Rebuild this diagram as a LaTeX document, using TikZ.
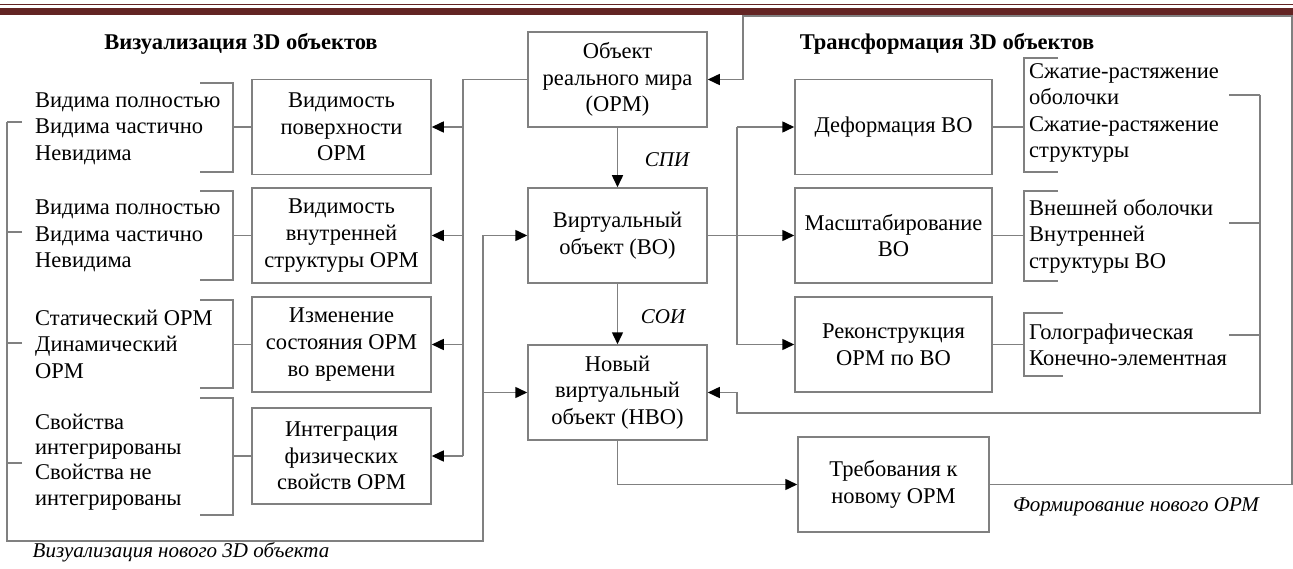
\documentclass[tikz,border=0pt]{standalone}
\usepackage{fontspec}
\setmainfont{Liberation Serif}
\usetikzlibrary{arrows.meta,calc}
\definecolor{linegray}{RGB}{128,128,128}
\definecolor{bandred}{RGB}{99,36,35}
\begin{document}
\begin{tikzpicture}[x=1pt,y=-1pt,
    conn/.style={draw=linegray,line width=1.5pt},
    arr/.style={conn,-{Triangle[width=11pt,length=12pt,black]}},
    box/.style={conn,minimum width=179pt,minimum height=95pt,align=center,inner sep=2pt,
        font=\fontsize{22.5}{26.7}\selectfont},
    wbox/.style={box,minimum width=197pt},
    note/.style={anchor=west,align=left,inner sep=0pt,font=\fontsize{22.5}{26.5}\selectfont},
    lab/.style={inner sep=0pt,font=\fontsize{21}{25}\selectfont\itshape},
    ttl/.style={inner sep=0pt,font=\fontsize{22.5}{26}\selectfont\bfseries}]
        \useasboundingbox (0,0) rectangle (1293,569);
        \fill[bandred] (0,4) rectangle (1293,5.5);
        \fill[bandred] (0,8) rectangle (1293,15);
        % titles
        \node[ttl] (tvis) at (241,44) {Визуализация 3D объектов};
        \node[ttl] (ttr) at (947,44) {Трансформация 3D объектов};
        % middle column
        \node[box] (obj) at (617.5,79.5) {Объект\\реального мира\\(ОРМ)};
        \node[box] (vo) at (617.5,235.5) {Виртуальный\\объект (ВО)};
        \node[box] (nvo) at (617.5,392.5) {Новый\\виртуальный\\объект (НВО)};
        \node[box,minimum width=191pt] (treb) at (893.5,484.5) {Требования к\\новому ОРМ};
        \draw[arr] (obj) -- (vo);
        \draw[arr] (vo) -- (nvo);
        \node[lab] (spi) at (667,160) {СПИ};
        \node[lab] (soi) at (663,317) {СОИ};
        % left column
        \node[box] (vis1) at (341.5,127) {Видимость\\поверхности\\ОРМ};
        \node[box] (vis2) at (341.5,235.5) {Видимость\\внутренней\\структуры ОРМ};
        \node[box] (izm) at (341.5,344.5) {Изменение\\состояния ОРМ\\во времени};
        \node[box,minimum height=96pt] (integ) at (341.5,456) {Интеграция\\физических\\свойств ОРМ};
        \node[note] (txvis1) at (35,128.5) {Видима полностью\\Видима частично\\Невидима};
        \node[note] (txvis2) at (35,236) {Видима полностью\\Видима частично\\Невидима};
        \node[note] (txizm) at (35,344) {Статический ОРМ\\Динамический\\ОРМ};
        \node[note,font=\fontsize{22.5}{25.2}\selectfont] (txinteg) at (35,462) {Свойства\\интегрированы\\Свойства не\\интегрированы};
        \foreach \b/\t/\u in {vis1/83/172,vis2/191/280,izm/300/388,integ/398/515}{
            \draw[conn] (\b.west) -- ++(-19,0);
            \draw[conn] (200,\t) -- (233,\t) -- (233,\u) -- (200,\u);
        }
        \coordinate (vbus) at (463,0);
        \draw[conn] (obj.west) -| (vbus |- integ.east);
        \foreach \b in {vis1,vis2,izm,integ}
            \draw[arr] (vbus |- \b.east) -- (\b.east);
        % new object visualisation loop
        \coordinate (lbus) at (483,541);
        \foreach \y in {122,232,343,463}
            \draw[conn] (22,\y) -- (7,\y);
        \draw[arr] (7,122) |- (lbus) |- (vo.west);
        \draw[arr] (lbus |- nvo.west) -- (nvo.west);
        \node[lab] (vnew) at (181,552) {Визуализация нового 3D объекта};
        % right column
        \node[wbox] (def) at (893.5,127) {Деформация ВО};
        \node[wbox] (mas) at (893.5,235.5) {Масштабирование\\ВО};
        \node[wbox] (rec) at (893.5,344.5) {Реконструкция\\ОРМ по ВО};
        \node[note] (txdef) at (1029,113) {Сжатие-растяжение\\оболочки\\Сжатие-растяжение\\структуры};
        \node[note] (txmas) at (1029,236) {Внешней оболочки\\Внутренней\\структуры ВО};
        \node[note] (txrec) at (1029,345) {Голографическая\\Конечно-элементная};
        \foreach \b/\t/\u/\e in {def/58/172/1058,mas/191/281/1058,rec/313/376/1063}{
            \draw[conn] (\b.east) -- ++(32,0);
            \draw[conn] (\e,\t) -- (1024,\t) -- (1024,\u) -- (\e,\u);
        }
        \coordinate (tbus) at (737,0);
        \draw[conn] (tbus |- def.west) -- (tbus |- rec.west);
        \draw[arr] (vo.east) -- (mas.west);
        \foreach \b in {def,rec}
            \draw[arr] (tbus |- \b.west) -- (\b.west);
        % transformation result back to the new object
        \coordinate (rc) at (737,413);
        \foreach \y in {95,223,335}
            \draw[conn] (1229,\y) -- (1260,\y);
        \draw[arr] (1260,95) |- (rc) |- (nvo.east);
        % new real object
        \draw[arr] (nvo.south) |- (treb.west);
        \coordinate (rtop) at (1292,16);
        \coordinate (ltop) at (743,16);
        \draw[arr] (treb.east) -| (rtop) -- (ltop) |- (obj.east);
        \node[lab] (fnew) at (1136,507) {Формирование нового ОРМ};
    \end{tikzpicture}
\end{document}
